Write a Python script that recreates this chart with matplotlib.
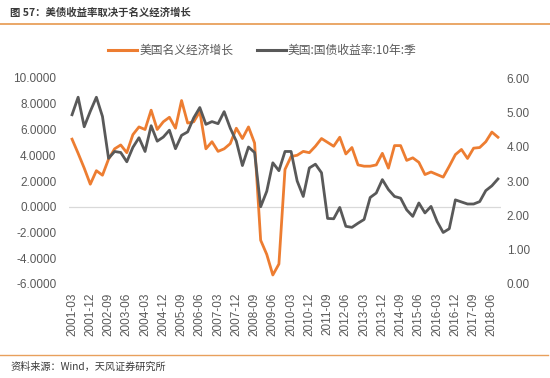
import matplotlib
matplotlib.use("Agg")
import matplotlib.pyplot as plt
import pandas as pd

# ---- data ----
quarters = pd.period_range("2001Q1", "2018Q3", freq="Q")
quarter_labels = [f"{p.year}-{p.quarter*3:02d}" for p in quarters]

nominal_growth = [5.25, 4.15, 3.0, 1.75, 2.8, 2.45, 3.7, 4.5, 4.8, 4.2,
                  5.6, 6.2, 6.0, 7.5, 6.0, 6.6, 6.95, 6.1, 8.25, 6.5,
                  6.6, 7.4, 4.5, 5.05, 4.3, 4.5, 4.9, 6.1, 5.3, 6.2,
                  4.95, -2.6, -3.7, -5.3, -4.45, 2.9, 3.9, 4.0, 4.3, 4.2,
                  4.7, 5.3, 5.0, 4.7, 5.4, 4.1, 4.6, 3.25, 3.15, 3.15,
                  3.25, 4.15, 3.0, 4.75, 4.75, 3.6, 3.8, 3.45, 2.5, 2.7,
                  2.5, 2.3, 3.15, 4.05, 4.45, 3.75, 4.55, 4.6, 5.05, 5.8,
                  5.4]

treasury_10y = [4.93, 5.44, 4.58, 5.03, 5.44, 4.88, 3.66, 3.86, 3.83, 3.56,
                3.98, 4.26, 3.86, 4.61, 4.16, 4.28, 4.48, 3.94, 4.33, 4.43,
                4.84, 5.14, 4.65, 4.73, 4.67, 5.02, 4.54, 4.16, 3.45, 3.99,
                3.83, 2.25, 2.70, 3.53, 3.30, 3.86, 3.86, 3.00, 2.55, 3.38,
                3.49, 3.24, 1.91, 1.90, 2.23, 1.68, 1.65, 1.77, 1.88, 2.52,
                2.65, 3.04, 2.75, 2.55, 2.50, 2.16, 1.97, 2.36, 2.07, 2.26,
                1.82, 1.50, 1.61, 2.45, 2.39, 2.33, 2.33, 2.40, 2.72, 2.86,
                3.06]

left_ticks = [-6, -4, -2, 0, 2, 4, 6, 8, 10]
right_ticks = [0, 1, 2, 3, 4, 5, 6]

title = "图 57：美债收益率取决于名义经济增长"
source = "资料来源：Wind，天风证券研究所"
name_growth = "美国名义经济增长"
name_yield = "美国:国债收益率:10年:季"

# ---- style ----
W, H = 550, 378
ORANGE = "#ED7D31"
GRAY = "#595959"
TICK = "#595959"
CJK = ["Noto Sans CJK SC", "DejaVu Sans"]
NUM = ["Liberation Sans", "DejaVu Sans"]

fig = plt.figure(figsize=(W / 100, H / 100), dpi=100)

def fx(px):
    return px / W

def fy(py):
    return 1 - py / H

ax = fig.add_axes([fx(69), fy(284), fx(432), 206 / H])
x = list(range(len(quarters)))
ax.plot(x, nominal_growth, color=ORANGE, lw=2.0, solid_joinstyle="round", zorder=3)
ax.set_xlim(-0.5, len(quarters) - 0.5)
ax.set_ylim(-6, 10)
ax.set_yticks(left_ticks)
ax.set_yticklabels([f"{v:.4f}" for v in left_ticks], family=NUM, fontsize=8.5, color=TICK)
ax.axhline(0, color="#D9D9D9", lw=0.9, zorder=1)
ax.set_xticks(x[::3])
ax.set_xticklabels(quarter_labels[::3], rotation=90, family=NUM, fontsize=8.5, color=TICK)
ax.tick_params(axis="both", length=0)
ax.tick_params(axis="y", pad=9)
ax.tick_params(axis="x", pad=6)
for s in ax.spines.values():
    s.set_visible(False)

ax2 = ax.twinx()
ax2.plot(x, treasury_10y, color=GRAY, lw=2.0, solid_joinstyle="round", zorder=3)
ax2.set_ylim(0, 6)
ax2.set_yticks(right_ticks)
ax2.set_yticklabels([f"{v:.2f}" for v in right_ticks], family=NUM, fontsize=8.5, color=TICK)
ax2.tick_params(axis="y", length=0, pad=4)
for s in ax2.spines.values():
    s.set_visible(False)

# legend
ly = fy(50)
fig.add_artist(plt.Line2D([fx(108), fx(137)], [ly, ly], color=ORANGE, lw=2.2))
fig.text(fx(140), ly, name_growth, family=CJK, fontsize=8.5, color=TICK, va="center", ha="left")
fig.add_artist(plt.Line2D([fx(257), fx(286)], [ly, ly], color=GRAY, lw=2.2))
fig.text(fx(288), ly, name_yield, family=CJK, fontsize=8.5, color=TICK, va="center", ha="left")

# title and separators
fig.text(fx(10), fy(13), title, family=CJK, fontsize=7.5, fontweight="bold", color="#3A3A3A",
         va="center", ha="left")
fig.add_artist(plt.Line2D([0, 1], [fy(23.5), fy(23.5)], color="#E8A05C", lw=1.3))
fig.add_artist(plt.Line2D([0, fx(548)], [fy(355), fy(355)], color="#E8A05C", lw=1.0))
fig.text(fx(10), fy(367), source, family=CJK, fontsize=7.3, color="#3A3A3A", va="center", ha="left")

fig.savefig("out.png", dpi=100)
